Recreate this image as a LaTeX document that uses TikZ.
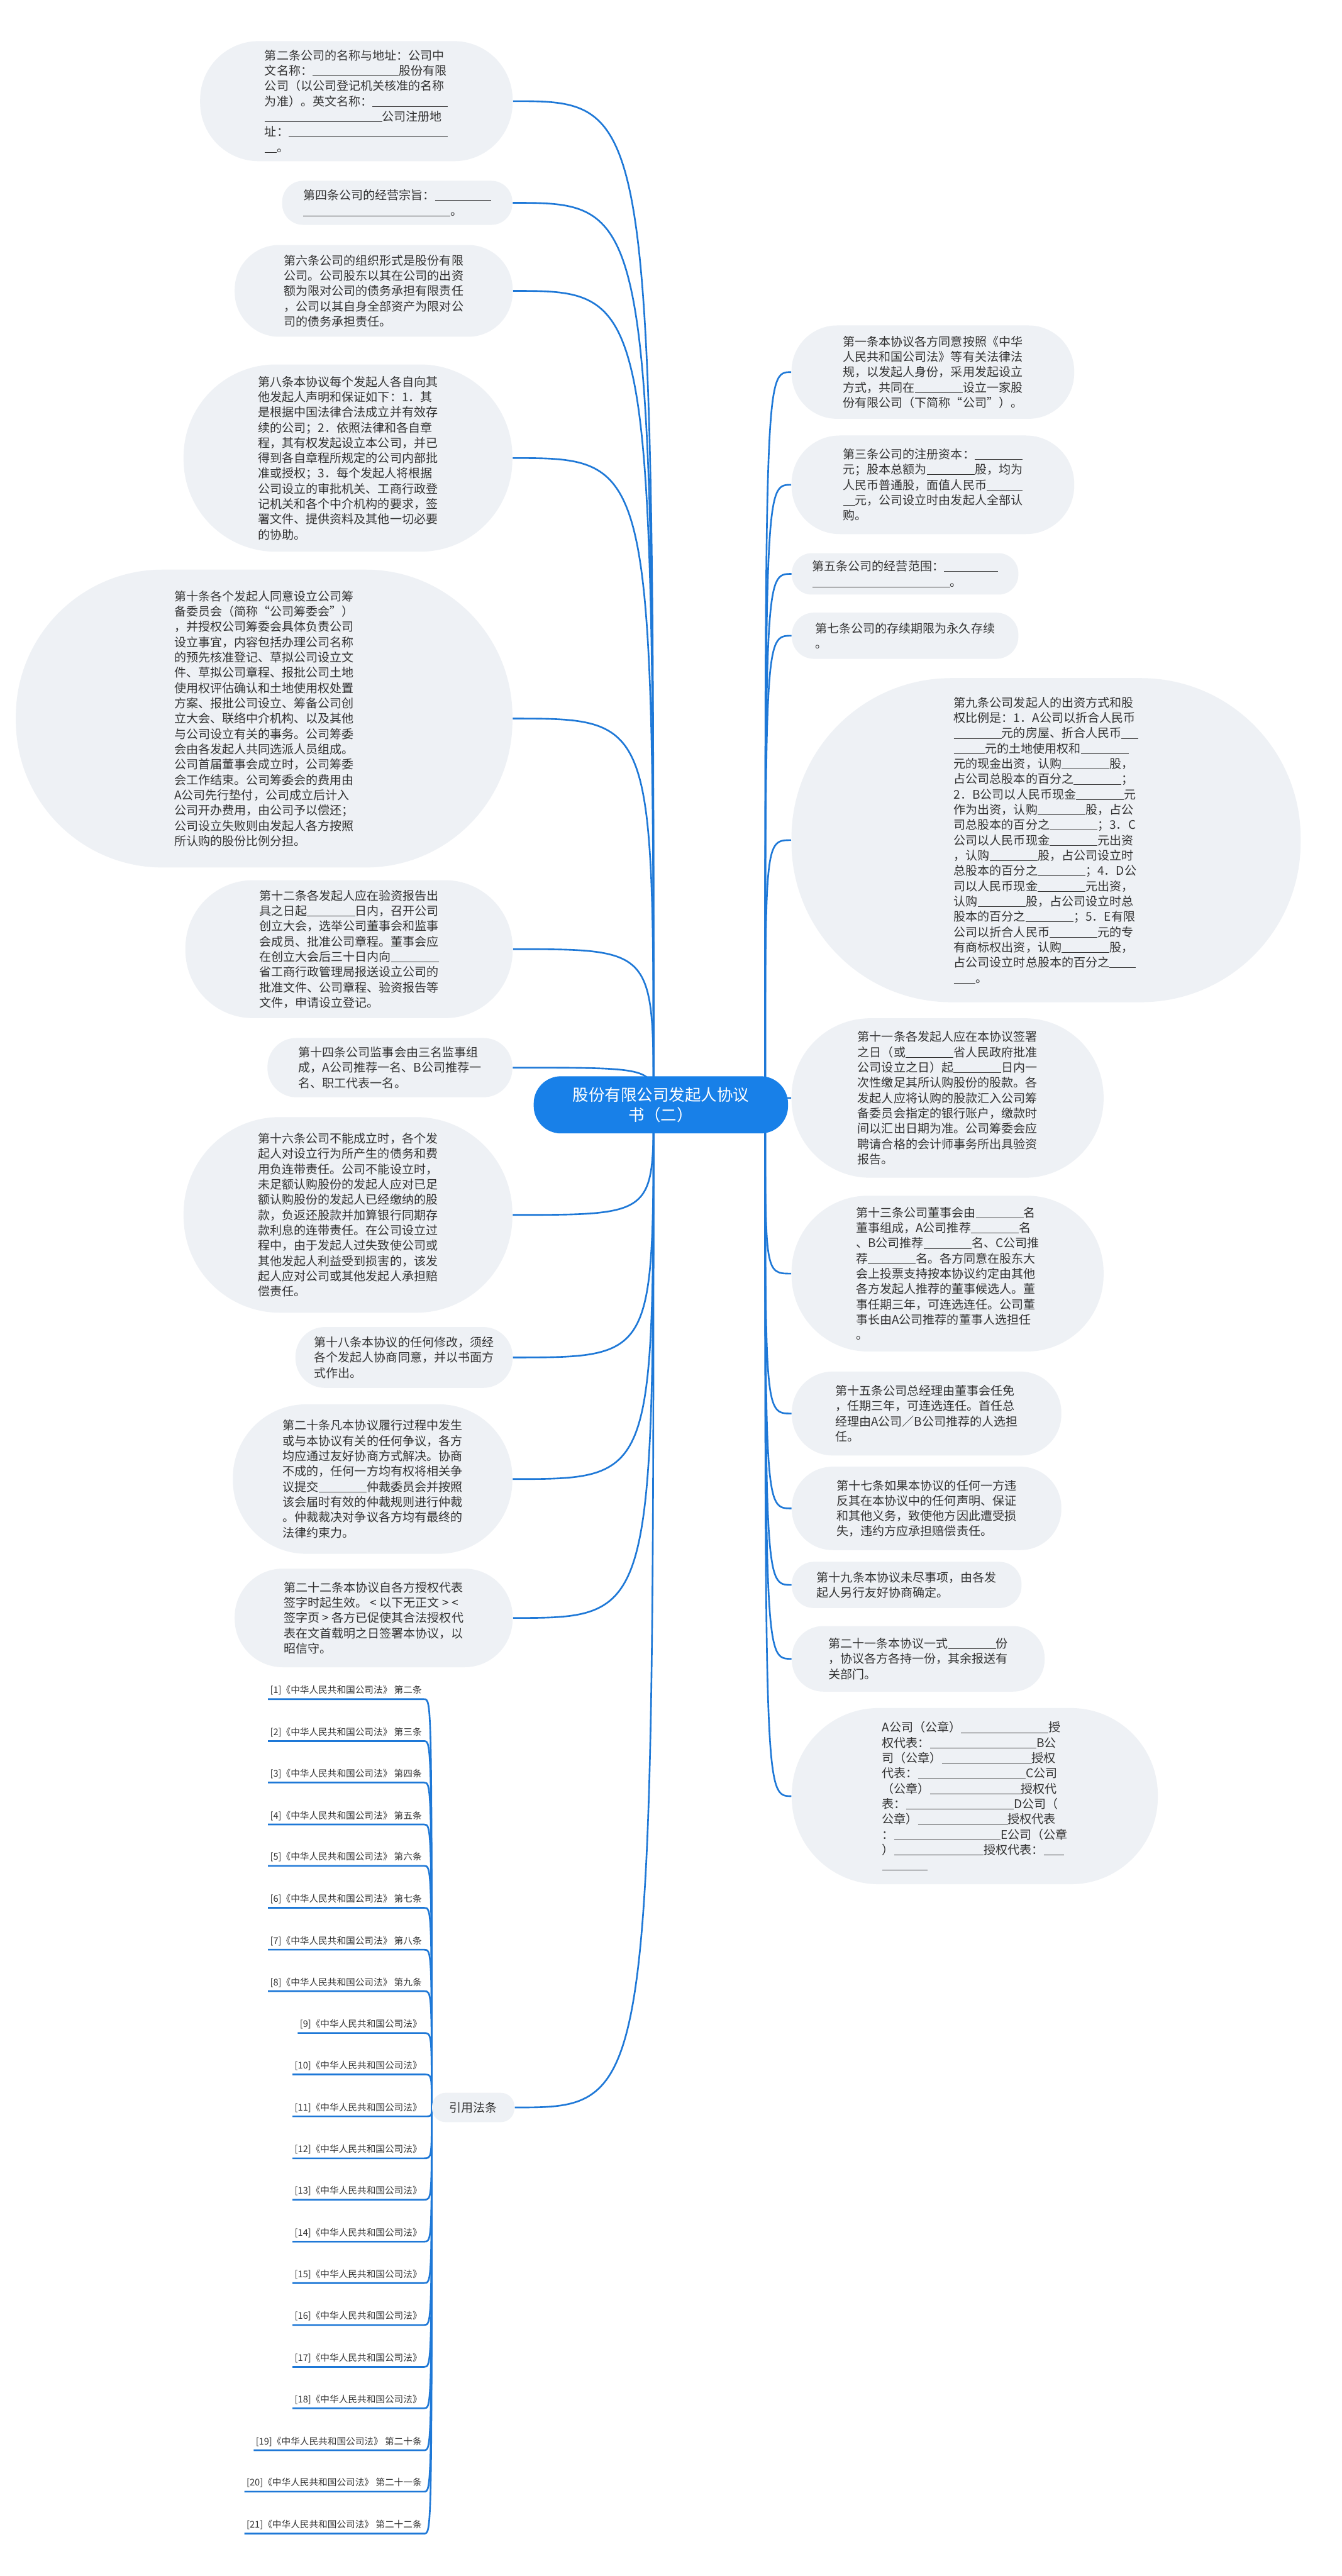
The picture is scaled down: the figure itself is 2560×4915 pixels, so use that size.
\documentclass[tikz,border=0pt]{standalone}
\usepackage{fontspec}
\setmainfont{Noto Sans CJK SC}
\usepackage{xcolor}
\usepackage{tikz}

\definecolor{leaffill}{RGB}{238,241,245}
\definecolor{linkblue}{RGB}{30,120,215}
\definecolor{rootblue}{RGB}{24,128,232}
\definecolor{textgray}{RGB}{51,51,51}

\newcommand{\blk}[1]{\rule[-0.5pt]{#1em}{0.3pt}}

\pgfdeclarelayer{bg}
\pgfsetlayers{bg,main}

\begin{document}
\begin{tikzpicture}[
  x=0.01cm, y=-0.01cm,
  leaf/.style={fill=leaffill, rounded corners=#1, inner sep=0pt, align=left,
    text=textgray, font=\fontsize{6.5pt}{8.3pt}\selectfont},
  root/.style={fill=rootblue, rounded corners=0.52cm, text=white, align=center,
    font=\fontsize{8.7pt}{11pt}\selectfont, minimum width=4.85cm, minimum height=1.09cm},
  cite/.style={anchor=south east, inner xsep=1pt, inner ysep=2pt, text=textgray,
    font=\fontsize{5pt}{6pt}\selectfont},
  link/.style={draw=linkblue, line width=0.9pt}
]
  \useasboundingbox (0,0) rectangle (2560,4915);

  \node[root] (root) at (1261,2108) {股份有限公司发起人协议\\书（二）};
  \coordinate (lhub) at (1247,2108);
  \coordinate (rhub) at (1460,2108);

  % Left branch
  \node[leaf=1.12cm, minimum width=5.96cm, minimum height=2.29cm] (er) at (680,193)
    {第二条公司的名称与地址：公司中\\文名称：\blk{7.2}股份有限\\公司（以公司登记机关核准的名称\\为准）。英文名称：\blk{6.3}\\\blk{9.8}公司注册地\\址：\blk{13.3}\\\blk{1}。};
  \node[leaf=0.40cm, minimum width=4.39cm, minimum height=0.84cm] (si) at (758,387)
    {第四条公司的经营宗旨：\blk{4.7}\\\blk{12.3}。};
  \node[leaf=0.85cm, minimum width=5.30cm, minimum height=1.75cm] (liu) at (713,555)
    {第六条公司的组织形式是股份有限\\公司。公司股东以其在公司的出资\\额为限对公司的债务承担有限责任\\，公司以其自身全部资产为限对公\\司的债务承担责任。};
  \node[leaf=1.76cm, minimum width=6.27cm, minimum height=3.57cm] (ba) at (664,874)
    {第八条本协议每个发起人各自向其\\他发起人声明和保证如下：1．其\\是根据中国法律合法成立并有效存\\续的公司；2．依照法律和各自章\\程，其有权发起设立本公司，并已\\得到各自章程所规定的公司内部批\\准或授权；3．每个发起人将根据\\公司设立的审批机关、工商行政登\\记机关和各个中介机构的要求，签\\署文件、提供资料及其他一切必要\\的协助。};
  \node[leaf=2.8cm, minimum width=9.47cm, minimum height=5.68cm] (shi) at (504,1371)
    {第十条各个发起人同意设立公司筹\\备委员会（简称“公司筹委会”）\\，并授权公司筹委会具体负责公司\\设立事宜，内容包括办理公司名称\\的预先核准登记、草拟公司设立文\\件、草拟公司章程、报批公司土地\\使用权评估确认和土地使用权处置\\方案、报批公司设立、筹备公司创\\立大会、联络中介机构、以及其他\\与公司设立有关的事务。公司筹委\\会由各发起人共同选派人员组成。\\公司首届董事会成立时，公司筹委\\会工作结束。公司筹委会的费用由\\A公司先行垫付，公司成立后计入\\公司开办费用，由公司予以偿还；\\公司设立失败则由发起人各方按照\\所认购的股份比例分担。};
  \node[leaf=1.29cm, minimum width=6.24cm, minimum height=2.63cm] (shier) at (666,1811)
    {第十二条各发起人应在验资报告出\\具之日起\blk{4}日内，召开公司\\创立大会，选举公司董事会和监事\\会成员、批准公司章程。董事会应\\在创立大会后三十日内向\blk{4}\\省工商行政管理局报送设立公司的\\批准文件、公司章程、验资报告等\\文件，申请设立登记。};
  \node[leaf=0.55cm, minimum width=4.67cm, minimum height=1.13cm] (shisi) at (744,2037)
    {第十四条公司监事会由三名监事组\\成，A公司推荐一名、B公司推荐一\\名、职工代表一名。};
  \node[leaf=1.84cm, minimum width=6.27cm, minimum height=3.73cm] (shiliu) at (664,2318)
    {第十六条公司不能成立时，各个发\\起人对设立行为所产生的债务和费\\用负连带责任。公司不能设立时，\\未足额认购股份的发起人应对已足\\额认购股份的发起人已经缴纳的股\\款，负返还股款并加算银行同期存\\款利息的连带责任。在公司设立过\\程中，由于发起人过失致使公司或\\其他发起人利益受到损害的，该发\\起人应对公司或其他发起人承担赔\\偿责任。};
  \node[leaf=0.56cm, minimum width=4.14cm, minimum height=1.16cm] (shiba) at (771,2590)
    {第十八条本协议的任何修改，须经\\各个发起人协商同意，并以书面方\\式作出。};
  \node[leaf=1.40cm, minimum width=5.33cm, minimum height=2.85cm] (ershi) at (711,2822)
    {第二十条凡本协议履行过程中发生\\或与本协议有关的任何争议，各方\\均应通过友好协商方式解决。协商\\不成的，任何一方均有权将相关争\\议提交\blk{4}仲裁委员会并按照\\该会届时有效的仲裁规则进行仲裁\\。仲裁裁决对争议各方均有最终的\\法律约束力。};
  \node[leaf=0.92cm, minimum width=5.30cm, minimum height=1.88cm] (ershier) at (713,3087)
    {第二十二条本协议自各方授权代表\\签字时起生效。 < 以下无正文 > <\\签字页 > 各方已促使其合法授权代\\表在文首载明之日签署本协议，以\\昭信守。};
  \node[leaf=0.26cm, minimum width=1.57cm, minimum height=0.56cm] (yinyong) at (903,4021)
    {引用法条};

  % Right branch
  \node[leaf=0.87cm, minimum width=5.39cm, minimum height=1.78cm] (yi) at (1780,710)
    {第一条本协议各方同意按照《中华\\人民共和国公司法》等有关法律法\\规，以发起人身份，采用发起设立\\方式，共同在\blk{4}设立一家股\\份有限公司（下简称“公司”）。};
  \node[leaf=0.92cm, minimum width=5.39cm, minimum height=1.88cm] (san) at (1780,925)
    {第三条公司的注册资本：\blk{4}\\元；股本总额为\blk{4}股，均为\\人民币普通股，面值人民币\blk{3}\\\blk{1}元，公司设立时由发起人全部认\\购。};
  \node[leaf=0.38cm, minimum width=4.32cm, minimum height=0.79cm] (wu) at (1727,1095)
    {第五条公司的经营范围：\blk{4.5}\\\blk{11.5}。};
  \node[leaf=0.42cm, minimum width=4.32cm, minimum height=0.88cm] (qi) at (1727,1213)
    {第七条公司的存续期限为永久存续\\。};
  \node[leaf=3.05cm, minimum width=9.71cm, minimum height=6.18cm] (jiu) at (1996,1603)
    {第九条公司发起人的出资方式和股\\权比例是：1．A公司以折合人民币\\\blk{4}元的房屋、折合人民币\blk{1.4}\\\blk{2.6}元的土地使用权和\blk{4}\\元的现金出资，认购\blk{4}股，\\占公司总股本的百分之\blk{4}；\\2．B公司以人民币现金\blk{4}元\\作为出资，认购\blk{4}股，占公\\司总股本的百分之\blk{4}；3．C\\公司以人民币现金\blk{4}元出资\\，认购\blk{4}股，占公司设立时\\总股本的百分之\blk{4}；4．D公\\司以人民币现金\blk{4}元出资，\\认购\blk{4}股，占公司设立时总\\股本的百分之\blk{4}；5．E有限\\公司以折合人民币\blk{4}元的专\\有商标权出资，认购\blk{4}股，\\占公司设立时总股本的百分之\blk{2.2}\\\blk{1.8}。};
  \node[leaf=1.5cm, minimum width=5.95cm, minimum height=3.04cm] (shiyi) at (1808,2095)
    {第十一条各发起人应在本协议签署\\之日（或\blk{4}省人民政府批准\\公司设立之日）起\blk{4}日内一\\次性缴足其所认购股份的股款。各\\发起人应将认购的股款汇入公司筹\\备委员会指定的银行账户，缴款时\\间以汇出日期为准。公司筹委会应\\聘请合格的会计师事务所出具验资\\报告。};
  \node[leaf=1.46cm, minimum width=5.95cm, minimum height=2.97cm] (shisan) at (1808,2430)
    {第十三条公司董事会由\blk{4}名\\董事组成，A公司推荐\blk{4}名\\、B公司推荐\blk{4}名、C公司推\\荐\blk{4}名。各方同意在股东大\\会上投票支持按本协议约定由其他\\各方发起人推荐的董事候选人。董\\事任期三年，可连选连任。公司董\\事长由A公司推荐的董事人选担任\\。};
  \node[leaf=0.78cm, minimum width=5.14cm, minimum height=1.60cm] (shiwu) at (1768,2697)
    {第十五条公司总经理由董事会任免\\，任期三年，可连选连任。首任总\\经理由A公司／B公司推荐的人选担\\任。};
  \node[leaf=0.78cm, minimum width=5.14cm, minimum height=1.59cm] (shiqi) at (1768,2878)
    {第十七条如果本协议的任何一方违\\反其在本协议中的任何声明、保证\\和其他义务，致使他方因此遭受损\\失，违约方应承担赔偿责任。};
  \node[leaf=0.42cm, minimum width=4.38cm, minimum height=0.88cm] (shijiu) at (1730,3024)
    {第十九条本协议未尽事项，由各发\\起人另行友好协商确定。};
  \node[leaf=0.6cm, minimum width=4.82cm, minimum height=1.25cm] (ershiyi) at (1752,3165)
    {第二十一条本协议一式\blk{4}份\\，协议各方各持一份，其余报送有\\关部门。};
  \node[leaf=1.66cm, minimum width=6.98cm, minimum height=3.36cm] (qianzi) at (1860,3427)
    {A公司（公章）\blk{7.3}授\\权代表：\blk{8.9}B公\\司（公章）\blk{7.5}授权\\代表：\blk{9}C公司\\（公章）\blk{7.6}授权代\\表：\blk{9}D公司（\\公章）\blk{7.5}授权代表\\：\blk{8.9}E公司（公章\\）\blk{7.5}授权代表：\blk{1.7}\\\blk{3.8}};

  % Cited articles
  \node[cite] (c1) at (809,3242) {[1]《中华人民共和国公司法》 第二条};
  \node[cite] (c2) at (809,3322) {[2]《中华人民共和国公司法》 第三条};
  \node[cite] (c3) at (809,3401) {[3]《中华人民共和国公司法》 第四条};
  \node[cite] (c4) at (809,3481) {[4]《中华人民共和国公司法》 第五条};
  \node[cite] (c5) at (809,3560) {[5]《中华人民共和国公司法》 第六条};
  \node[cite] (c6) at (809,3640) {[6]《中华人民共和国公司法》 第七条};
  \node[cite] (c7) at (809,3720) {[7]《中华人民共和国公司法》 第八条};
  \node[cite] (c8) at (809,3799) {[8]《中华人民共和国公司法》 第九条};
  \node[cite] (c9) at (809,3879) {[9]《中华人民共和国公司法》};
  \node[cite] (c10) at (809,3958) {[10]《中华人民共和国公司法》};
  \node[cite] (c11) at (809,4038) {[11]《中华人民共和国公司法》};
  \node[cite] (c12) at (809,4118) {[12]《中华人民共和国公司法》};
  \node[cite] (c13) at (809,4197) {[13]《中华人民共和国公司法》};
  \node[cite] (c14) at (809,4277) {[14]《中华人民共和国公司法》};
  \node[cite] (c15) at (809,4356) {[15]《中华人民共和国公司法》};
  \node[cite] (c16) at (809,4436) {[16]《中华人民共和国公司法》};
  \node[cite] (c17) at (809,4516) {[17]《中华人民共和国公司法》};
  \node[cite] (c18) at (809,4595) {[18]《中华人民共和国公司法》};
  \node[cite] (c19) at (809,4675) {[19]《中华人民共和国公司法》 第二十条};
  \node[cite] (c20) at (809,4754) {[20]《中华人民共和国公司法》 第二十一条};
  \node[cite] (c21) at (809,4834) {[21]《中华人民共和国公司法》 第二十二条};

  \begin{pgfonlayer}{bg}
    \fill[white] (0,0) rectangle (2560,4915);

    \draw[link] (lhub) .. controls (lhub |- er.east) .. (er.east);
    \draw[link] (lhub) .. controls (lhub |- si.east) .. (si.east);
    \draw[link] (lhub) .. controls (lhub |- liu.east) .. (liu.east);
    \draw[link] (lhub) .. controls (lhub |- ba.east) .. (ba.east);
    \draw[link] (lhub) .. controls (lhub |- shi.east) .. (shi.east);
    \draw[link] (lhub) .. controls (lhub |- shier.east) .. (shier.east);
    \draw[link] (lhub) .. controls (lhub |- shisi.east) .. (shisi.east);
    \draw[link] (lhub) .. controls (lhub |- shiliu.east) .. (shiliu.east);
    \draw[link] (lhub) .. controls (lhub |- shiba.east) .. (shiba.east);
    \draw[link] (lhub) .. controls (lhub |- ershi.east) .. (ershi.east);
    \draw[link] (lhub) .. controls (lhub |- ershier.east) .. (ershier.east);
    \draw[link] (lhub) .. controls (lhub |- yinyong.east) .. (yinyong.east);

    \draw[link] (rhub) .. controls (rhub |- yi.west) .. (yi.west);
    \draw[link] (rhub) .. controls (rhub |- san.west) .. (san.west);
    \draw[link] (rhub) .. controls (rhub |- wu.west) .. (wu.west);
    \draw[link] (rhub) .. controls (rhub |- qi.west) .. (qi.west);
    \draw[link] (rhub) .. controls (rhub |- jiu.west) .. (jiu.west);
    \draw[link] (rhub) .. controls (rhub |- shiyi.west) .. (shiyi.west);
    \draw[link] (rhub) .. controls (rhub |- shisan.west) .. (shisan.west);
    \draw[link] (rhub) .. controls (rhub |- shiwu.west) .. (shiwu.west);
    \draw[link] (rhub) .. controls (rhub |- shiqi.west) .. (shiqi.west);
    \draw[link] (rhub) .. controls (rhub |- shijiu.west) .. (shijiu.west);
    \draw[link] (rhub) .. controls (rhub |- ershiyi.west) .. (ershiyi.west);
    \draw[link] (rhub) .. controls (rhub |- qianzi.west) .. (qianzi.west);

    % article list under 引用法条
    \draw[link] (yinyong.west) .. controls (yinyong.west |- c1.south east) .. (c1.south east) -- (c1.south west);
    \draw[link] (yinyong.west) .. controls (yinyong.west |- c2.south east) .. (c2.south east) -- (c2.south west);
    \draw[link] (yinyong.west) .. controls (yinyong.west |- c3.south east) .. (c3.south east) -- (c3.south west);
    \draw[link] (yinyong.west) .. controls (yinyong.west |- c4.south east) .. (c4.south east) -- (c4.south west);
    \draw[link] (yinyong.west) .. controls (yinyong.west |- c5.south east) .. (c5.south east) -- (c5.south west);
    \draw[link] (yinyong.west) .. controls (yinyong.west |- c6.south east) .. (c6.south east) -- (c6.south west);
    \draw[link] (yinyong.west) .. controls (yinyong.west |- c7.south east) .. (c7.south east) -- (c7.south west);
    \draw[link] (yinyong.west) .. controls (yinyong.west |- c8.south east) .. (c8.south east) -- (c8.south west);
    \draw[link] (yinyong.west) .. controls (yinyong.west |- c9.south east) .. (c9.south east) -- (c9.south west);
    \draw[link] (yinyong.west) .. controls (yinyong.west |- c10.south east) .. (c10.south east) -- (c10.south west);
    \draw[link] (yinyong.west) .. controls (yinyong.west |- c11.south east) .. (c11.south east) -- (c11.south west);
    \draw[link] (yinyong.west) .. controls (yinyong.west |- c12.south east) .. (c12.south east) -- (c12.south west);
    \draw[link] (yinyong.west) .. controls (yinyong.west |- c13.south east) .. (c13.south east) -- (c13.south west);
    \draw[link] (yinyong.west) .. controls (yinyong.west |- c14.south east) .. (c14.south east) -- (c14.south west);
    \draw[link] (yinyong.west) .. controls (yinyong.west |- c15.south east) .. (c15.south east) -- (c15.south west);
    \draw[link] (yinyong.west) .. controls (yinyong.west |- c16.south east) .. (c16.south east) -- (c16.south west);
    \draw[link] (yinyong.west) .. controls (yinyong.west |- c17.south east) .. (c17.south east) -- (c17.south west);
    \draw[link] (yinyong.west) .. controls (yinyong.west |- c18.south east) .. (c18.south east) -- (c18.south west);
    \draw[link] (yinyong.west) .. controls (yinyong.west |- c19.south east) .. (c19.south east) -- (c19.south west);
    \draw[link] (yinyong.west) .. controls (yinyong.west |- c20.south east) .. (c20.south east) -- (c20.south west);
    \draw[link] (yinyong.west) .. controls (yinyong.west |- c21.south east) .. (c21.south east) -- (c21.south west);
  \end{pgfonlayer}
\end{tikzpicture}
\end{document}
